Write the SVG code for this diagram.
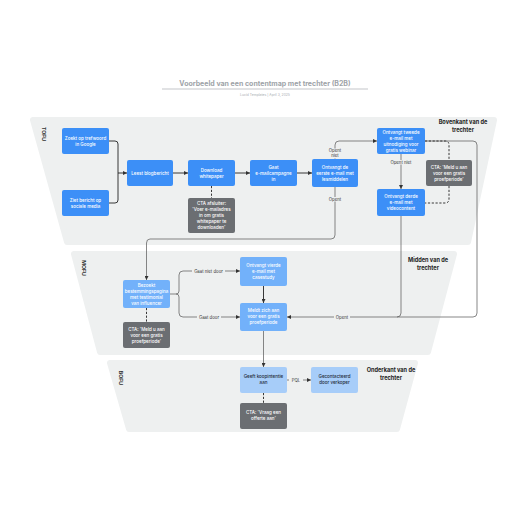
<svg xmlns="http://www.w3.org/2000/svg" width="516" height="516" viewBox="0 0 516 516">
<style>
text{font-family:Inter,"Liberation Sans",sans-serif}
.band{fill:#eef0f0;stroke:#eef0f0;stroke-width:6;stroke-linejoin:round}
.n1{fill:#3c8ff7}
.n2{fill:#72b1fa}
.n3{fill:#a7cdf9}
.cta{fill:#6b6e72}
.nt{fill:#fff;font-size:4.5px;font-weight:500;text-anchor:middle}
.nt3{fill:#1e2a38;font-size:4.5px;font-weight:500;text-anchor:middle}
.hd{fill:#222;font-size:5.6px;font-weight:bold;text-anchor:middle}
.side{fill:#333;font-size:5.2px;font-weight:bold;text-anchor:middle}
.c{fill:none;stroke:#555;stroke-width:0.7}
.cd{fill:none;stroke:#222;stroke-width:0.9}
.dash{fill:none;stroke:#222;stroke-width:0.9;stroke-dasharray:2.2,1.6}
.lb{fill:#333;font-size:4.3px;text-anchor:middle}
.lbg{fill:#eef0f0}
</style>
<defs>
<marker id="ar" viewBox="0 0 6 6" refX="6" refY="3" markerWidth="4" markerHeight="4" markerUnits="userSpaceOnUse" orient="auto">
<path d="M0,0 L6,3 L0,6 z" fill="#333"/>
</marker>
</defs>
<rect width="516" height="516" fill="#fff"/>
<g id="title">
<text x="265" y="85.5" style="font-size:7px;font-weight:bold;fill:#9ea3a8;text-anchor:middle">Voorbeeld van een contentmap met trechter (B2B)</text>
<line x1="162" y1="89" x2="368" y2="89" stroke="#a9adb1" stroke-width="0.7"/>
<text x="265" y="96" style="font-size:3.4px;fill:#a9adb1;text-anchor:middle">Lucid Templates  |  April 3, 2025</text>
</g>
<g id="bands">
<polygon class="band" points="33,120 494,120 468,242 67,242"/>
<polygon class="band" points="74,254 454,254 428,352 100,352"/>
<polygon class="band" points="110,363 415,363 397,429 129,429"/>
<text class="side" transform="translate(42,134) rotate(90)">TOFU</text>
<text class="side" transform="translate(82,268) rotate(90)">MOFU</text>
<text class="side" transform="translate(119,378) rotate(90)">BOFU</text>
<text class="hd" x="463" y="124">Bovenkant van de</text>
<text class="hd" x="463" y="131.5">trechter</text>
<text class="hd" x="428" y="262">Midden van de</text>
<text class="hd" x="428" y="269.5">trechter</text>
<text class="hd" x="391" y="372">Onderkant van de</text>
<text class="hd" x="391" y="379.5">trechter</text>
</g>
<g id="connectors">
<path class="cd" d="M109,141 H115 Q118,141 118,144 V173 H127" marker-end="url(#ar)"/>
<path class="cd" d="M109,203 H115 Q118,203 118,200 V173"/>
<path class="cd" d="M173,173 H188" marker-end="url(#ar)"/>
<path class="cd" d="M235,173 H250" marker-end="url(#ar)"/>
<path class="cd" d="M297,173 H312" marker-end="url(#ar)"/>
<path class="c" d="M335,159 V145 Q335,141 339,141 H377" marker-end="url(#ar)"/>
<path class="c" d="M335,187 V235 Q335,239 331,239 H150 Q146.5,239 146.5,243 V280" marker-end="url(#ar)"/>
<path class="c" d="M401,154 V189" marker-end="url(#ar)"/>
<path class="c" d="M425,141 H473 Q477,141 477,145 V313 Q477,317 473,317 H287" marker-end="url(#ar)"/>
<path class="c" d="M401,216 V313 Q401,317 397,317"/>
<path class="dash" d="M425,141 H445 Q449,141 449,145 V160"/>
<path class="dash" d="M449,186 V199 Q449,203 445,203 H425"/>
<path class="dash" d="M211.5,186 V198"/>
<path class="c" d="M170,294 H176 Q179,294 179,291 V275 Q179,271 183,271 H240" marker-end="url(#ar)"/>
<path class="c" d="M176,294 Q179,294 179,297 V313 Q179,317 183,317 H240" marker-end="url(#ar)"/>
<path class="dash" d="M146.5,308 V322"/>
<path class="cd" d="M263.5,286 V303" marker-end="url(#ar)"/>
<path class="c" d="M263.5,331 V367" marker-end="url(#ar)"/>
<path class="c" d="M287,380 H311" marker-end="url(#ar)"/>
<path class="dash" d="M263.5,393 V403"/>
<rect class="lbg" x="327" y="148.5" width="16" height="10"/>
<text class="lb" x="335" y="152">Opent</text>
<text class="lb" x="335" y="157">niet</text>
<rect class="lbg" x="328" y="197" width="14" height="4.5"/>
<text class="lb" x="335" y="200.5">Opent</text>
<rect class="lbg" x="389" y="160" width="24" height="4.5"/>
<text class="lb" x="401" y="163.5">Opent niet</text>
<rect class="lbg" x="334" y="315" width="16" height="4.5"/>
<text class="lb" x="342" y="318.5">Opent</text>
<rect class="lbg" x="192" y="269" width="33" height="4.5"/>
<text class="lb" x="208.5" y="272.5">Gaat niet door</text>
<rect class="lbg" x="197" y="315" width="24" height="4.5"/>
<text class="lb" x="209" y="318.5">Gaat door</text>
<rect class="lbg" x="289" y="378" width="14" height="4.5"/>
<text class="lb" x="296" y="381.5">PQL</text>
</g>
<g id="n-zoekt"><rect class="n1" x="62" y="128" width="47" height="26" rx="2"/><text class="nt" x="85.5" y="140">Zoekt op trefwoord</text><text class="nt" x="85.5" y="146">in Google</text></g>
<g id="n-ziet"><rect class="n1" x="62" y="190" width="47" height="26" rx="2"/><text class="nt" x="85.5" y="202">Ziet bericht op</text><text class="nt" x="85.5" y="208">sociale media</text></g>
<g id="n-leest"><rect class="n1" x="127" y="160" width="46" height="26" rx="2"/><text class="nt" x="150" y="174.5">Leest blogbericht</text></g>
<g id="n-download"><rect class="n1" x="188" y="160" width="47" height="26" rx="2"/><text class="nt" x="211.5" y="172">Download</text><text class="nt" x="211.5" y="178">whitepaper</text></g>
<g id="n-gaat"><rect class="n1" x="250" y="160" width="47" height="26" rx="2"/><text class="nt" x="273.5" y="169">Gaat</text><text class="nt" x="273.5" y="175">e-mailcampagne</text><text class="nt" x="273.5" y="181">in</text></g>
<g id="n-eerste"><rect class="n1" x="312" y="159" width="46" height="28" rx="2"/><text class="nt" x="335" y="169">Ontvangt de</text><text class="nt" x="335" y="175">eerste e-mail met</text><text class="nt" x="335" y="181">lesmiddelen</text></g>
<g id="n-tweede"><rect class="n1" x="377" y="128" width="48" height="26" rx="2"/><text class="nt" x="401" y="134">Ontvangt tweede</text><text class="nt" x="401" y="140">e-mail met</text><text class="nt" x="401" y="146">uitnodiging voor</text><text class="nt" x="401" y="152">gratis webinar</text></g>
<g id="n-derde"><rect class="n1" x="377" y="189" width="48" height="27" rx="2"/><text class="nt" x="401" y="198">Ontvangt derde</text><text class="nt" x="401" y="204">e-mail met</text><text class="nt" x="401" y="210">videocontent</text></g>
<g id="n-cta1"><rect class="cta" x="188" y="198" width="47" height="35" rx="2"/><text class="nt" x="211.5" y="205">CTA afsluiter:</text><text class="nt" x="211.5" y="211">'Voer e-mailadres</text><text class="nt" x="211.5" y="217">in om gratis</text><text class="nt" x="211.5" y="223">whitepaper te</text><text class="nt" x="211.5" y="229">downloaden'</text></g>
<g id="n-cta2"><rect class="cta" x="426" y="160" width="46" height="26" rx="2"/><text class="nt" x="449" y="169">CTA: 'Meld u aan</text><text class="nt" x="449" y="175">voor een gratis</text><text class="nt" x="449" y="181">proefperiode'</text></g>
<g id="n-bezoekt"><rect class="n2" x="123" y="280" width="47" height="28" rx="2"/><text class="nt" x="146.5" y="287">Bezoekt</text><text class="nt" x="146.5" y="293">bestemmingspagina</text><text class="nt" x="146.5" y="299">met testimonial</text><text class="nt" x="146.5" y="305">van influencer</text></g>
<g id="n-cta3"><rect class="cta" x="123" y="322" width="47" height="26" rx="2"/><text class="nt" x="146.5" y="331">CTA: 'Meld u aan</text><text class="nt" x="146.5" y="337">voor een gratis</text><text class="nt" x="146.5" y="343">proefperiode'</text></g>
<g id="n-vierde"><rect class="n2" x="240" y="257" width="47" height="29" rx="2"/><text class="nt" x="263.5" y="267">Ontvangt vierde</text><text class="nt" x="263.5" y="273">e-mail met</text><text class="nt" x="263.5" y="279">casestudy</text></g>
<g id="n-meldt"><rect class="n2" x="240" y="303" width="47" height="28" rx="2"/><text class="nt" x="263.5" y="312">Meldt zich aan</text><text class="nt" x="263.5" y="318">voor een gratis</text><text class="nt" x="263.5" y="324">proefperiode</text></g>
<g id="n-geeft"><rect class="n3" x="240" y="367" width="47" height="26" rx="2"/><text class="nt3" x="263.5" y="378">Geeft koopintentie</text><text class="nt3" x="263.5" y="384">aan</text></g>
<g id="n-gecontacteerd"><rect class="n3" x="311" y="367" width="47" height="26" rx="2"/><text class="nt3" x="334.5" y="378">Gecontacteerd</text><text class="nt3" x="334.5" y="384">door verkoper</text></g>
<g id="n-cta4"><rect class="cta" x="240" y="403" width="47" height="26" rx="2"/><text class="nt" x="263.5" y="414">CTA: 'Vraag een</text><text class="nt" x="263.5" y="420">offerte aan'</text></g>
</svg>
